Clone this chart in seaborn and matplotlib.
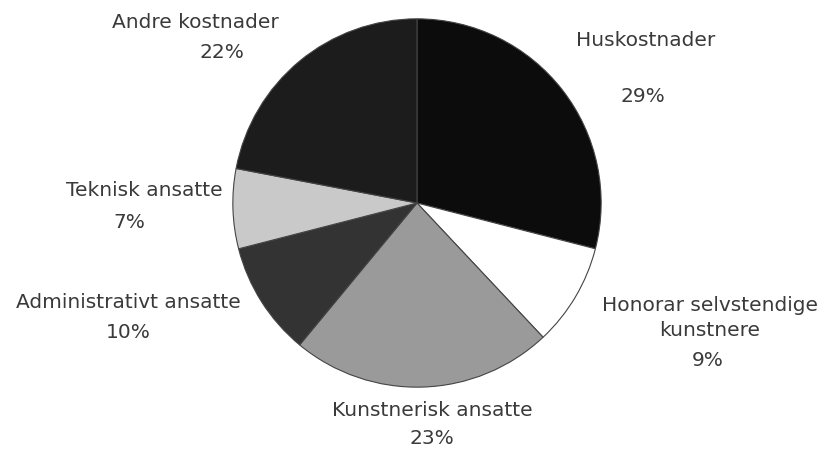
import matplotlib
matplotlib.use("Agg")
import seaborn as sns
import matplotlib.pyplot as plt

# data (clockwise from 12 o'clock)
categories = ["Huskostnader", "Honorar selvstendige\nkunstnere", "Kunstnerisk ansatte",
              "Administrativt ansatte", "Teknisk ansatte", "Andre kostnader"]
shares = [29, 9, 23, 10, 7, 22]
colors = ["#0c0c0c", "#ffffff", "#9a9a9a", "#333333", "#c9c9c9", "#1c1c1c"]

# label positions in pixels of the 827x450 picture: name centre, percent centre
name_px = [(646, 40), (710, 318), (432, 410), (128, 302), (144, 190), (195, 22)]
pct_px = [(643, 97), (708, 360), (432, 438), (128, 333), (129, 222), (222, 53)]

sns.set_theme(style="white")
plt.rcParams['font.family'] = ['DejaVu Sans']

W, H = 827, 450
fig = plt.figure(figsize=(W / 100, H / 100), dpi=100)

# pie of radius ~186 px centred at (417, 203)
cx, cy, r = 417, 203, 186
ax = fig.add_axes([(cx - r) / W, (H - cy - r) / H, 2 * r / W, 2 * r / H])
ax.pie(shares, colors=colors, startangle=90, counterclock=False,
       wedgeprops=dict(edgecolor="#444444", linewidth=0.8))
ax.set_xlim(-1.01, 1.01)
ax.set_ylim(-1.01, 1.01)
ax.set_aspect("equal")
ax.axis("off")

txt = dict(ha="center", va="center", fontsize=14.5, color="#3a3a3a")
for name, val, (nx, ny), (vx, vy) in zip(categories, shares, name_px, pct_px):
    fig.text(nx / W, 1 - ny / H, name, linespacing=1.45, **txt)
    fig.text(vx / W, 1 - vy / H, f"{val}%", **txt)

fig.savefig("out.png", dpi=100, facecolor="white")
